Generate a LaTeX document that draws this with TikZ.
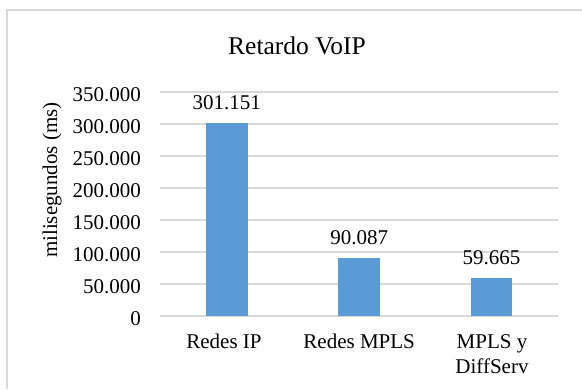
\documentclass[tikz,border=0pt]{standalone}
\usepackage{fontspec}
\setmainfont{Liberation Serif}
\definecolor{barblue}{HTML}{5B9BD5}
\definecolor{gridgray}{HTML}{D9D9D9}
\tikzset{
  gridline/.style={draw=gridgray, line width=1.4pt},
  framebox/.style={draw=gridgray, line width=1.2pt},
  barbox/.style={fill=barblue, draw=none},
  lbl/.style={inner sep=0pt, font=\fontsize{21}{25}\selectfont},
  ticklbl/.style={lbl, anchor=base east},
  vallbl/.style={lbl, anchor=base},
  catlbl/.style={lbl, anchor=base, align=center},
}
\begin{document}
\begin{tikzpicture}[x=1pt, y=-1pt]
\useasboundingbox (0,0) rectangle (582,389);
\fill[white] (0,0) rectangle (582,389);
% frame
\draw[framebox] (7,389) -- (7,10) -- (582,10);
% title
\node[lbl, anchor=base, font=\fontsize{25.5}{30}\selectfont] (title) at (297,54.3) {Retardo VoIP};
% gridlines and ticks
\foreach \v/\t [count=\i] in {0/0,50/50.000,100/100.000,150/150.000,200/200.000,250/250.000,300/300.000,350/350.000}{
  \pgfmathsetmacro{\yy}{316-0.64*\v}
  \draw[gridline] (160,\yy) -- (557.7,\yy);
  \node[ticklbl] (tick\i) at (141,\yy+9) {\t};
}
% y label
\node[lbl, rotate=90] (ylab) at (52,180) {milisegundos (ms)};
% bars
\foreach \cx/\val/\txt/\nm in {226.7/301.151/301.151/a, 359.2/90.087/90.087/b, 491.5/59.665/59.665/c}{
  \pgfmathsetmacro{\top}{316-0.64*\val}
  \path[barbox] (\cx-20.8,316) rectangle (\cx+20.8,\top);
  \node[vallbl] (val\nm) at (\cx,\top-13.5) {\txt};
}
% categories
\node[catlbl] (cat1) at (224,348) {Redes IP};
\node[catlbl] (cat2) at (359.2,348) {Redes MPLS};
\node[lbl, anchor=base] (cat3a) at (492,348) {MPLS y};
\node[lbl, anchor=base] (cat3b) at (492,373.3) {DiffServ};
\end{tikzpicture}
\end{document}
